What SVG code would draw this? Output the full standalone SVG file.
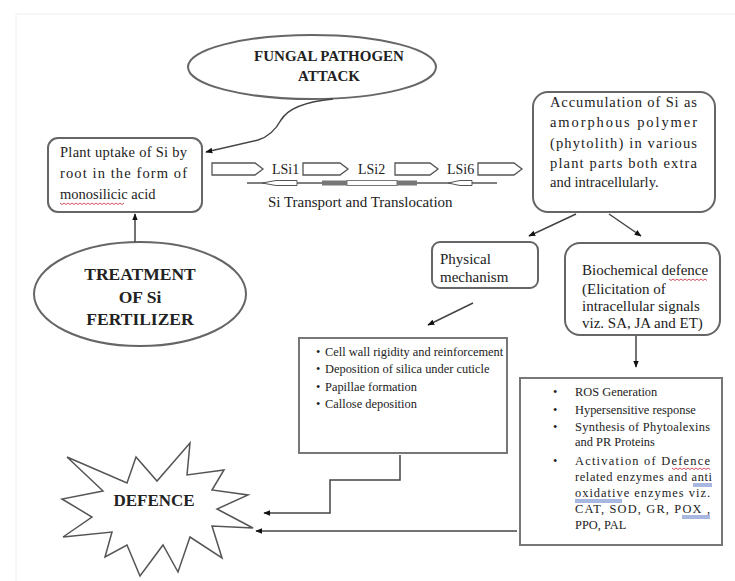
<svg xmlns="http://www.w3.org/2000/svg" width="735" height="581" viewBox="0 0 735 581">
<defs>
<style>
.t{font-family:"Liberation Serif","Times New Roman",serif;fill:#222;}
.b{font-weight:bold;}
.box{fill:#fff;stroke:#666;stroke-width:2;}
.sq{fill:#fff;stroke:#777;stroke-width:2;}
.ln{fill:none;stroke:#444;stroke-width:1.5;}
.sp{fill:none;stroke-width:1;}
</style>
<marker id="ah" viewBox="0 0 10 10" refX="9" refY="5" markerWidth="7" markerHeight="7" orient="auto" markerUnits="userSpaceOnUse"><path d="M0,1 L10,5 L0,9 z" fill="#111"/></marker>
</defs>
<rect width="735" height="581" fill="#fff"/>
<path d="M16,581 L16,14 L735,14" fill="none" stroke="#eeeeee" stroke-width="1"/>

<g id="fungal">
<ellipse cx="312" cy="67" rx="124" ry="32" class="box"/>
<text class="t b" x="329" y="61" font-size="15" text-anchor="middle">FUNGAL PATHOGEN</text>
<text class="t b" x="329" y="81" font-size="15" text-anchor="middle">ATTACK</text>
</g>

<g id="plant-uptake">
<rect x="48" y="138" width="154" height="74" rx="10" class="box"/>
<text class="t" x="60" y="157" font-size="14.5" textLength="127" lengthAdjust="spacing">Plant uptake of Si by</text>
<text class="t" x="60" y="178" font-size="14.5" textLength="127" lengthAdjust="spacing">root in the form of</text>
<text class="t" x="60" y="199" font-size="14.5">monosilicic acid</text>
<path class="sp" stroke="#d05060" d="M60,203 l2,1.5 l2,-1.5 l2,1.5 l2,-1.5 l2,1.5 l2,-1.5 l2,1.5 l2,-1.5 l2,1.5 l2,-1.5 l2,1.5 l2,-1.5 l2,1.5 l2,-1.5 l2,1.5 l2,-1.5 l2,1.5 l2,-1.5 l2,1.5 l2,-1.5 l2,1.5 l2,-1.5 l2,1.5 l2,-1.5 l2,1.5 l2,-1.5 l2,1.5 l2,-1.5 l2,1.5 l2,-1.5 l2,1.5 l2,-1.5"/>
</g>

<g id="treatment">
<ellipse cx="140" cy="294" rx="106" ry="52" class="box"/>
<text class="t b" x="140" y="280" font-size="17.5" text-anchor="middle">TREATMENT</text>
<text class="t b" x="140" y="303" font-size="17.5" text-anchor="middle">OF Si</text>
<text class="t b" x="140" y="325" font-size="17.5" text-anchor="middle">FERTILIZER</text>
</g>

<g id="transport">
<polygon points="212,163 255,163 263,169 255,175 212,175" fill="#fff" stroke="#555" stroke-width="1.3"/>
<text class="t" x="272" y="174" font-size="14">LSi1</text>
<polygon points="303,163 340,163 348,169 340,175 303,175" fill="#fff" stroke="#555" stroke-width="1.3"/>
<text class="t" x="358" y="174" font-size="14">LSi2</text>
<polygon points="395,163 430,163 438,169 430,175 395,175" fill="#fff" stroke="#555" stroke-width="1.3"/>
<text class="t" x="447" y="174" font-size="14">LSi6</text>
<polygon points="478,163 514,163 522,169 514,175 478,175" fill="#fff" stroke="#555" stroke-width="1.3"/>
<line x1="247" y1="183" x2="497" y2="183" stroke="#555" stroke-width="1.3"/>
<polygon points="262,183 276,180.5 297,180.5 297,185.5 276,185.5" fill="#fff" stroke="#555" stroke-width="1"/>
<rect x="322" y="180.5" width="95" height="5" fill="#777"/>
<rect x="347" y="180.5" width="50" height="5" fill="#fff" stroke="#777" stroke-width="1"/>
<polygon points="448,183 460,180.5 472,180.5 472,185.5 460,185.5" fill="#fff" stroke="#555" stroke-width="1"/>
<text class="t" x="268" y="207" font-size="15">Si Transport and Translocation</text>
</g>

<g id="accumulation">
<rect x="533" y="92" width="182" height="120" rx="15" class="box"/>
<text class="t" x="550" y="107" font-size="14.5" textLength="147" lengthAdjust="spacing">Accumulation of Si as</text>
<text class="t" x="550" y="127" font-size="14.5" textLength="147" lengthAdjust="spacing">amorphous polymer</text>
<text class="t" x="550" y="148" font-size="14.5" textLength="147" lengthAdjust="spacing">(phytolith) in various</text>
<text class="t" x="550" y="168" font-size="14.5" textLength="147" lengthAdjust="spacing">plant parts both extra</text>
<text class="t" x="550" y="187" font-size="14.5">and intracellularly.</text>
</g>

<g id="physical">
<rect x="432" y="242" width="106" height="46" rx="8" class="box"/>
<text class="t" x="440" y="264" font-size="15">Physical</text>
<text class="t" x="440" y="282" font-size="15">mechanism</text>
</g>

<g id="biochemical">
<rect x="565" y="243" width="155" height="92" rx="15" class="box"/>
<text class="t" x="582" y="275" font-size="15">Biochemical defence</text>
<path class="sp" stroke="#d05060" d="M669,279 l2,1.5 l2,-1.5 l2,1.5 l2,-1.5 l2,1.5 l2,-1.5 l2,1.5 l2,-1.5 l2,1.5 l2,-1.5 l2,1.5 l2,-1.5 l2,1.5 l2,-1.5 l2,1.5 l2,-1.5 l2,1.5 l2,-1.5 l2,1.5"/>
<text class="t" x="582" y="294" font-size="15">(Elicitation of</text>
<text class="t" x="582" y="311" font-size="15">intracellular signals</text>
<text class="t" x="582" y="328" font-size="15">viz. SA, JA and ET)</text>
</g>

<g id="physical-list">
<rect x="299" y="338" width="208" height="115" class="sq"/>
<g class="t" font-size="12.4">
<text x="316" y="356">•</text><text x="325" y="356">Cell wall rigidity and reinforcement</text>
<text x="316" y="373">•</text><text x="325" y="373">Deposition of silica under cuticle</text>
<text x="316" y="391">•</text><text x="325" y="391">Papillae formation</text>
<text x="316" y="408">•</text><text x="325" y="408">Callose deposition</text>
</g>
</g>

<g id="biochemical-list">
<rect x="520" y="378" width="202" height="167" class="sq"/>
<g class="t" font-size="12.4">
<text x="553" y="396">•</text><text x="575" y="396">ROS Generation</text>
<text x="553" y="414">•</text><text x="575" y="414">Hypersensitive response</text>
<text x="553" y="431">•</text><text x="575" y="431" textLength="135" lengthAdjust="spacing">Synthesis of Phytoalexins</text>
<text x="575" y="446">and PR Proteins</text>
<text x="553" y="465">•</text><text x="575" y="465" textLength="135" lengthAdjust="spacing">Activation of Defence</text>
<text x="575" y="481" textLength="137" lengthAdjust="spacing">related enzymes and anti</text>
<text x="575" y="497" textLength="135" lengthAdjust="spacing">oxidative enzymes viz.</text>
<text x="575" y="513" textLength="135" lengthAdjust="spacing">CAT, SOD, GR, POX ,</text>
<text x="575" y="529">PPO, PAL</text>
</g>
<path class="sp" stroke="#d05060" d="M672,468 l2,1.5 l2,-1.5 l2,1.5 l2,-1.5 l2,1.5 l2,-1.5 l2,1.5 l2,-1.5 l2,1.5 l2,-1.5 l2,1.5 l2,-1.5 l2,1.5 l2,-1.5 l2,1.5 l2,-1.5 l2,1.5 l2,-1.5 l2,1.5"/>
<path class="sp" stroke="#5070c0" d="M693,484 H712 M693,486 H712 M575,500 H622 M575,502 H622 M682,516 H710 M682,518 H710"/>
</g>

<g id="defence">
<polygon points="67,457 127,483 136,457 157,481 190,443 187,475 224,470 212,490 248,495 217,509 253,528 212,526 222,558 190,537 178,572 163,545 140,576 127,545 105,557 112,532 63,537 92,517 62,499 103,491" fill="#fff" stroke="#555" stroke-width="1.5" stroke-linejoin="miter"/>
<text class="t b" x="154" y="506" font-size="17" text-anchor="middle">DEFENCE</text>
</g>

<g id="connectors">
<path class="ln" d="M333,99 C302,102 287,110 281,120 C275,131 268,137 258,140 L206,152" marker-end="url(#ah)"/>
<line class="ln" x1="135" y1="242" x2="135" y2="214" marker-end="url(#ah)"/>
<line class="ln" x1="576" y1="214" x2="529" y2="236" marker-end="url(#ah)"/>
<line class="ln" x1="609" y1="214" x2="641" y2="236" marker-end="url(#ah)"/>
<line class="ln" x1="473" y1="303" x2="428" y2="325" marker-end="url(#ah)"/>
<line class="ln" x1="636" y1="336" x2="636" y2="367" marker-end="url(#ah)"/>
<polyline class="ln" points="400,455 400,480 330,480 330,513 264,513" marker-end="url(#ah)"/>
<line class="ln" x1="517" y1="531" x2="256" y2="531" marker-end="url(#ah)"/>
</g>
</svg>
